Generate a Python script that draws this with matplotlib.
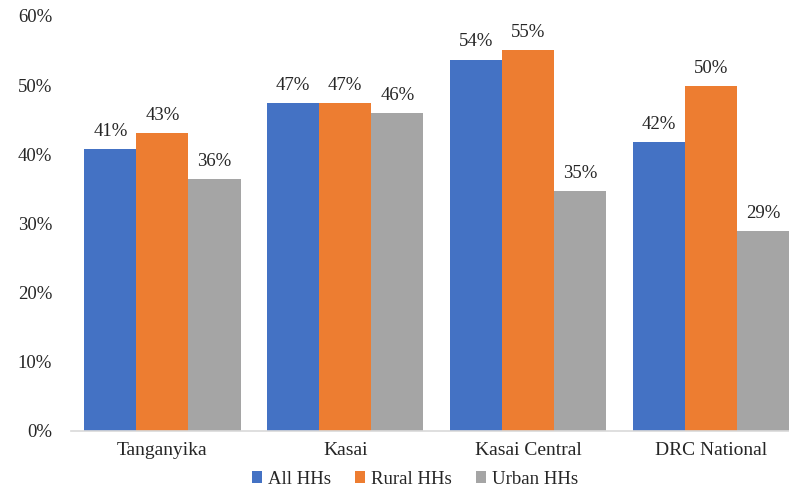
import numpy as np
import matplotlib.pyplot as plt

plt.rcParams['font.family'] = ['Liberation Serif', 'DejaVu Serif']

# household share by province, in percent
regions = ["Tanganyika", "Kasai", "Kasai Central", "DRC National"]
all_hhs = [40.8, 47.4, 53.7, 41.8]
rural_hhs = [43.1, 47.4, 55.1, 49.9]
urban_hhs = [36.4, 46.0, 34.7, 28.9]
series = ["All HHs", "Rural HHs", "Urban HHs"]
colors = ["#4472C4", "#ED7D31", "#A5A5A5"]

fig = plt.figure(figsize=(7.89, 4.88), dpi=100)
ax = fig.add_axes([71/789, 1 - 430.5/488, 1 - 71/789, (430.5 - 16)/488])

x = np.arange(len(regions))
w = 0.285
for i, (vals, name, c) in enumerate(zip([all_hhs, rural_hhs, urban_hhs], series, colors)):
    pos = x + (i - 1) * w
    ax.bar(pos, vals, width=w, color=c, label=name, zorder=2)
    for px, v in zip(pos, vals):
        ax.annotate(f"{v:.0f}%", (px, v), xytext=(0, 6.5), textcoords="offset points",
                    ha="center", va="bottom", fontsize=13.5, color="#262626")

ax.set_ylim(0, 60)
ax.set_xlim(-0.5, 3.5 - 13.5/183)
ax.set_yticks(range(0, 61, 10))
ax.set_yticklabels([f"{t}%" for t in range(0, 61, 10)], fontsize=13.5, color="#262626")
ax.set_xticks(x)
ax.set_xticklabels(regions, fontsize=14, color="#262626")
ax.tick_params(length=0)
ax.tick_params(axis="y", pad=13.5)
ax.tick_params(axis="x", pad=8.5)
for s in ["top", "right", "left"]:
    ax.spines[s].set_visible(False)
ax.spines["bottom"].set_color("#D9D9D9")
ax.spines["bottom"].set_linewidth(1.2)

fig.legend(loc="center", bbox_to_anchor=(0.526, 1 - 479/488), ncol=3, frameon=False,
           fontsize=13.5, handlelength=0.55, handleheight=0.55, handletextpad=0.3,
           columnspacing=1.3, labelcolor="#262626")

fig.savefig("out.png", dpi=100)
